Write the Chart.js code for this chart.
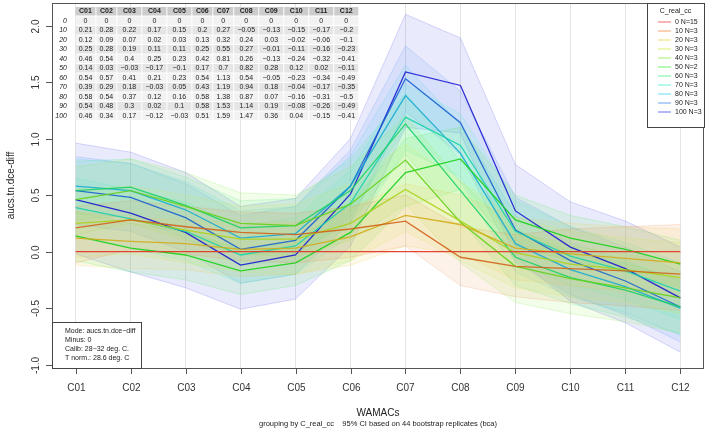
<!DOCTYPE html>
<html>
<head>
<meta charset="utf-8">
<script src="https://cdn.jsdelivr.net/npm/chart.js@4.4.1/dist/chart.umd.min.js"></script>
<style>
  html, body { margin: 0; padding: 0; background: #fff; }
  #chart { display: block; }
</style>
</head>
<body>
<canvas id="chart" width="708" height="433"></canvas>
<script>
// categories on the x axis and tick values on the y axis
const categories = ["C01", "C02", "C03", "C04", "C05", "C06", "C07", "C08", "C09", "C10", "C11", "C12"];
const yTicks = [-1.0, -0.5, 0.0, 0.5, 1.0, 1.5, 2.0];
const groupNames = ["0", "10", "20", "30", "40", "50", "60", "70", "80", "90", "100"];
const groupN = [15, 3, 3, 3, 3, 2, 3, 3, 3, 3, 3];

// group means (same numbers as the table in the plot)
const mean0   = [0, 0, 0, 0, 0, 0, 0, 0, 0, 0, 0, 0];
const mean10  = [0.21, 0.28, 0.22, 0.17, 0.15, 0.2, 0.27, -0.05, -0.13, -0.15, -0.17, -0.2];
const mean20  = [0.12, 0.09, 0.07, 0.02, 0.03, 0.13, 0.32, 0.24, 0.03, -0.02, -0.06, -0.1];
const mean30  = [0.25, 0.28, 0.19, 0.11, 0.11, 0.25, 0.55, 0.27, -0.01, -0.11, -0.16, -0.23];
const mean40  = [0.46, 0.54, 0.4, 0.25, 0.23, 0.42, 0.81, 0.26, -0.13, -0.24, -0.32, -0.41];
const mean50  = [0.14, 0.03, -0.03, -0.17, -0.1, 0.17, 0.7, 0.82, 0.28, 0.12, 0.02, -0.11];
const mean60  = [0.54, 0.57, 0.41, 0.21, 0.23, 0.54, 1.13, 0.54, -0.05, -0.23, -0.34, -0.49];
const mean70  = [0.39, 0.29, 0.18, -0.03, 0.05, 0.43, 1.19, 0.94, 0.18, -0.04, -0.17, -0.35];
const mean80  = [0.58, 0.54, 0.37, 0.12, 0.16, 0.58, 1.38, 0.87, 0.07, -0.16, -0.31, -0.5];
const mean90  = [0.54, 0.48, 0.3, 0.02, 0.1, 0.58, 1.53, 1.14, 0.19, -0.08, -0.26, -0.49];
const mean100 = [0.46, 0.34, 0.17, -0.12, -0.03, 0.51, 1.59, 1.47, 0.36, 0.04, -0.15, -0.41];

// 95% CI bands (approximate)
const lower10  = [-0.10, 0.02, -0.02, -0.08, -0.10, -0.05, 0.05, -0.30, -0.40, -0.45, -0.48, -0.52];
const upper10  = [0.40, 0.45, 0.40, 0.35, 0.34, 0.40, 0.50, 0.22, 0.15, 0.20, 0.22, 0.24];
const lower20  = [-0.12, -0.15, -0.16, -0.22, -0.20, -0.12, 0.05, -0.02, -0.25, -0.30, -0.35, -0.40];
const upper20  = [0.35, 0.30, 0.28, 0.25, 0.26, 0.38, 0.60, 0.50, 0.30, 0.25, 0.22, 0.20];
const lower30  = [-0.05, -0.02, -0.10, -0.18, -0.20, -0.08, 0.18, -0.08, -0.32, -0.40, -0.45, -0.55];
const upper30  = [0.55, 0.58, 0.50, 0.40, 0.42, 0.60, 0.95, 0.62, 0.30, 0.18, 0.12, 0.08];
const lower40  = [0.15, 0.25, 0.10, -0.02, -0.05, 0.10, 0.42, -0.10, -0.45, -0.55, -0.62, -0.72];
const upper40  = [0.75, 0.82, 0.70, 0.52, 0.50, 0.75, 1.20, 0.62, 0.18, 0.05, -0.02, -0.10];
const lower50  = [-0.08, -0.18, -0.25, -0.38, -0.30, -0.08, 0.40, 0.55, 0.05, -0.08, -0.18, -0.32];
const upper50  = [0.35, 0.25, 0.18, 0.02, 0.10, 0.42, 1.00, 1.10, 0.50, 0.32, 0.22, 0.10];
const lower60  = [0.28, 0.32, 0.16, -0.03, -0.01, 0.26, 0.86, 0.28, -0.30, -0.46, -0.58, -0.73];
const upper60  = [0.80, 0.82, 0.66, 0.45, 0.47, 0.82, 1.40, 0.80, 0.20, 0.00, -0.10, -0.25];
const lower70  = [0.13, 0.03, -0.08, -0.28, -0.20, 0.14, 0.90, 0.66, -0.09, -0.30, -0.42, -0.60];
const upper70  = [0.65, 0.55, 0.44, 0.22, 0.30, 0.72, 1.48, 1.22, 0.45, 0.22, 0.08, -0.10];
const lower80  = [0.34, 0.30, 0.12, -0.12, -0.08, 0.31, 1.11, 0.62, -0.18, -0.40, -0.54, -0.74];
const upper80  = [0.82, 0.78, 0.62, 0.36, 0.40, 0.85, 1.65, 1.12, 0.32, 0.08, -0.08, -0.26];
const lower90  = [0.24, 0.18, 0.00, -0.28, -0.20, 0.26, 1.24, 0.86, -0.10, -0.38, -0.56, -0.80];
const upper90  = [0.84, 0.78, 0.60, 0.32, 0.40, 0.90, 1.82, 1.42, 0.48, 0.22, 0.04, -0.18];
const lower100 = [-0.02, -0.18, -0.32, -0.51, -0.42, 0.05, 1.10, 1.05, -0.05, -0.44, -0.63, -0.89];
const upper100 = [0.96, 0.88, 0.70, 0.40, 0.47, 1.00, 2.10, 1.89, 0.77, 0.44, 0.27, 0.04];

const series = [
    { mean: mean0,   lower: null,     upper: null },
    { mean: mean10,  lower: lower10,  upper: upper10 },
    { mean: mean20,  lower: lower20,  upper: upper20 },
    { mean: mean30,  lower: lower30,  upper: upper30 },
    { mean: mean40,  lower: lower40,  upper: upper40 },
    { mean: mean50,  lower: lower50,  upper: upper50 },
    { mean: mean60,  lower: lower60,  upper: upper60 },
    { mean: mean70,  lower: lower70,  upper: upper70 },
    { mean: mean80,  lower: lower80,  upper: upper80 },
    { mean: mean90,  lower: lower90,  upper: upper90 },
    { mean: mean100, lower: lower100, upper: upper100 }
];

const FONT = "'Liberation Sans', Arial, sans-serif";

// rainbow from red to blue
function hue(i) { return i * 24; }
function lineColor(i) { return i === 0 ? "hsla(6, 75%, 52%, 0.95)" : `hsla(${hue(i)}, 78%, 46%, 0.9)`; }
function edgeColor(i) { return `hsla(${hue(i)}, 80%, 60%, 0.35)`; }
function bandColor(i) { return `hsla(${hue(i)}, 85%, 65%, 0.13)`; }
function legendColor(i) { return `hsla(${hue(i)}, 85%, 65%, 0.6)`; }

function toPoints(arr) { return arr.map((v, j) => ({ x: j, y: v })); }

function fmt(v) {
    return String(v).replace("-", "\u2212");
}

const datasets = [];
series.forEach((s, i) => {
    datasets.push({
        data: toPoints(s.mean),
        borderColor: lineColor(i),
        borderWidth: 1.3,
        pointRadius: 0,
        fill: false,
        order: 0
    });
});
series.forEach((s, i) => {
    if (!s.lower) return;
    const lowIdx = datasets.length;
    datasets.push({
        data: toPoints(s.lower),
        borderColor: edgeColor(i),
        borderWidth: 0.6,
        pointRadius: 0,
        fill: false,
        order: 1
    });
    datasets.push({
        data: toPoints(s.upper),
        borderColor: edgeColor(i),
        borderWidth: 0.6,
        pointRadius: 0,
        fill: lowIdx,
        backgroundColor: bandColor(i),
        order: 1
    });
});

// axes, table, legend and notes in R style
const decor = {
    id: "decor",
    beforeDraw(chart) {
        const ctx = chart.ctx;
        ctx.save();
        ctx.fillStyle = "#fff";
        ctx.fillRect(0, 0, chart.width, chart.height);
        ctx.restore();
    },
    afterDraw(chart) {
        const ctx = chart.ctx;
        const a = chart.chartArea;
        const xs = chart.scales.x, ys = chart.scales.y;
        ctx.save();

        // plot box
        ctx.strokeStyle = "#555";
        ctx.lineWidth = 1;
        ctx.strokeRect(a.left + 0.5, a.top + 0.5, a.right - a.left - 1, a.bottom - a.top);

        // x ticks and labels
        ctx.fillStyle = "#333";
        ctx.font = `10px ${FONT}`;
        ctx.textAlign = "center";
        ctx.textBaseline = "middle";
        categories.forEach((c, j) => {
            const px = Math.round(xs.getPixelForValue(j)) + 0.5;
            ctx.beginPath();
            ctx.moveTo(px, a.bottom);
            ctx.lineTo(px, a.bottom + 6);
            ctx.stroke();
            ctx.fillText(c, px, a.bottom + 20);
        });

        // y ticks and rotated labels
        yTicks.forEach(v => {
            const py = Math.round(ys.getPixelForValue(v)) + 0.5;
            ctx.beginPath();
            ctx.moveTo(a.left - 6, py);
            ctx.lineTo(a.left, py);
            ctx.stroke();
            ctx.save();
            ctx.translate(a.left - 16, py);
            ctx.rotate(-Math.PI / 2);
            ctx.fillText(v.toFixed(1), 0, 0);
            ctx.restore();
        });

        // axis titles
        ctx.fillStyle = "#222";
        ctx.font = `10px ${FONT}`;
        ctx.fillText("WAMACs", (a.left + a.right) / 2, 413);
        ctx.font = `7.5px ${FONT}`;
        ctx.fillText("grouping by C_real_cc    95% CI based on 44 bootstrap replicates (bca)", (a.left + a.right) / 2, 424);
        ctx.save();
        ctx.font = `10px ${FONT}`;
        ctx.translate(11, (a.top + a.bottom) / 2);
        ctx.rotate(-Math.PI / 2);
        ctx.fillText("aucs.tn.dce-diff", 0, 0);
        ctx.restore();

        // table of means
        const rowH = 9.5, top = 6.5, fs = 7;
        ctx.font = `bold ${fs}px ${FONT}`;
        const colW = categories.map((c, j) => {
            let w = ctx.measureText(c).width;
            ctx.font = `${fs}px ${FONT}`;
            series.forEach(s => { w = Math.max(w, ctx.measureText(fmt(s.mean[j])).width); });
            ctx.font = `bold ${fs}px ${FONT}`;
            return w + 7.3;
        });
        let cx = 75;
        categories.forEach((c, j) => {
            const w = colW[j];
            ctx.fillStyle = "#cccccc";
            ctx.fillRect(cx + 0.5, top + 0.5, w - 1, rowH - 1);
            ctx.fillStyle = "#222";
            ctx.font = `bold ${fs}px ${FONT}`;
            ctx.textAlign = "center";
            ctx.fillText(c, cx + w / 2, top + rowH / 2);
            series.forEach((s, i) => {
                const ry = top + rowH * (i + 1);
                ctx.fillStyle = i % 2 === 0 ? "#f2f2f2" : "#e5e5e5";
                ctx.fillRect(cx + 0.5, ry + 0.5, w - 1, rowH - 1);
                ctx.fillStyle = "#222";
                ctx.font = `${fs}px ${FONT}`;
                ctx.fillText(fmt(s.mean[j]), cx + w / 2, ry + rowH / 2);
            });
            cx += w;
        });
        ctx.textAlign = "right";
        ctx.font = `italic ${fs}px ${FONT}`;
        groupNames.forEach((g, i) => {
            ctx.fillText(g, 67, top + rowH * (i + 1) + rowH / 2);
        });

        // legend box
        const lx = 647, ly = a.top, lw = a.right - lx, lh = 124;
        ctx.fillStyle = "#fff";
        ctx.fillRect(lx, ly, lw, lh);
        ctx.strokeStyle = "#444";
        ctx.strokeRect(lx + 0.5, ly + 0.5, lw, lh);
        ctx.fillStyle = "#222";
        ctx.font = `7px ${FONT}`;
        ctx.textAlign = "center";
        ctx.fillText("C_real_cc", lx + lw / 2, ly + 8);
        ctx.textAlign = "left";
        groupNames.forEach((g, i) => {
            const yy = ly + 19 + i * 9;
            ctx.strokeStyle = legendColor(i);
            ctx.lineWidth = 1.5;
            ctx.beginPath();
            ctx.moveTo(lx + 11, yy);
            ctx.lineTo(lx + 24, yy);
            ctx.stroke();
            ctx.fillStyle = "#222";
            ctx.fillText(`${g} N=${groupN[i]}`, lx + 28, yy);
        });

        // notes box
        const bx = a.left, by = 322, bw = 89, bh = a.bottom - by;
        ctx.fillStyle = "#fff";
        ctx.fillRect(bx, by, bw, bh);
        ctx.strokeStyle = "#444";
        ctx.lineWidth = 1;
        ctx.strokeRect(bx + 0.5, by + 0.5, bw, bh);
        ctx.fillStyle = "#222";
        ctx.font = `7px ${FONT}`;
        const notes = ["Mode: aucs.tn.dce\u2212diff", "Minus: 0", "Calib: 28\u221232 deg. C.", "T norm.: 28.6 deg. C"];
        notes.forEach((t, k) => ctx.fillText(t, bx + 13, by + 9 + k * 9));

        ctx.restore();
    }
};

new Chart(document.getElementById("chart"), {
    type: "line",
    data: { datasets: datasets },
    options: {
        responsive: false,
        animation: false,
        devicePixelRatio: 1,
        layout: { padding: { left: 52, top: 3, right: 4, bottom: 65 } },
        plugins: {
            legend: { display: false },
            tooltip: { enabled: false },
            filler: { propagate: false }
        },
        scales: {
            x: {
                type: "linear",
                min: -0.43,
                max: 11.43,
                afterBuildTicks: s => { s.ticks = categories.map((c, j) => ({ value: j })); },
                ticks: { display: false },
                grid: { color: "#e4e4e4", drawTicks: false },
                border: { display: false }
            },
            y: {
                display: false,
                min: -1.03,
                max: 2.2
            }
        }
    },
    plugins: [decor]
});
</script>
</body>
</html>
